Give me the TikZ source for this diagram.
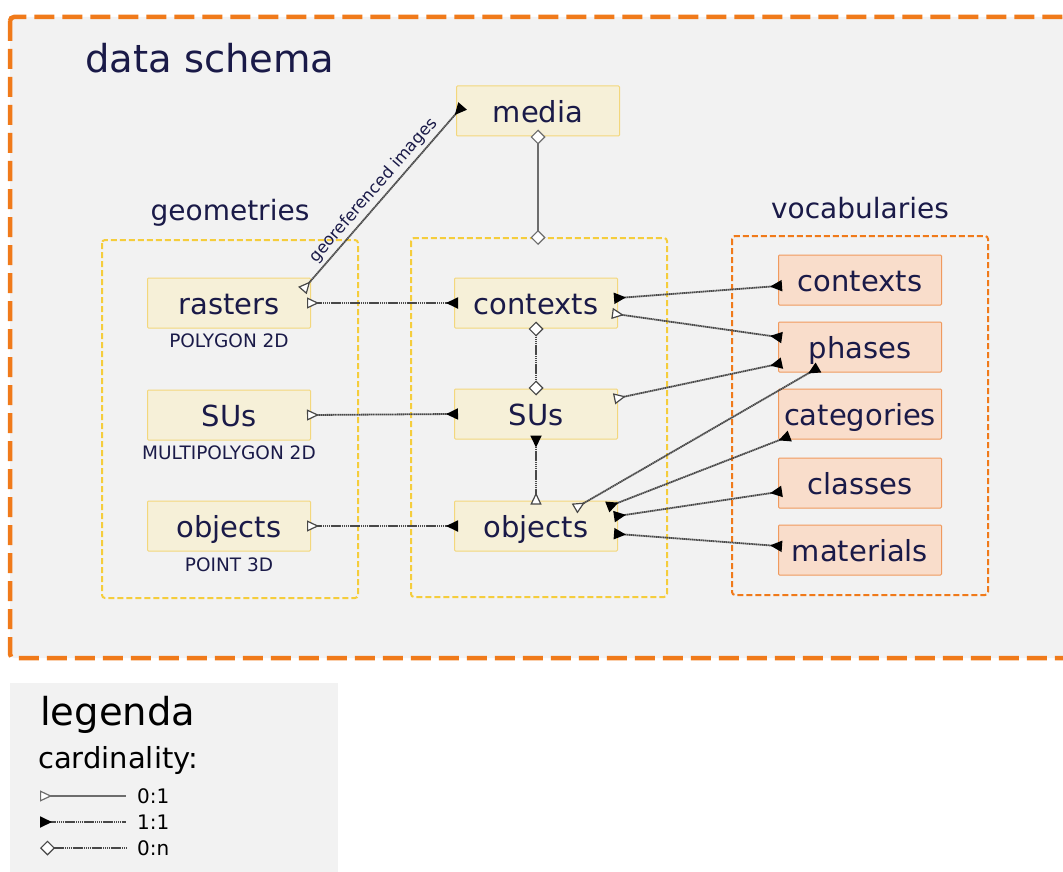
\documentclass[tikz,border=0pt]{standalone}
\usepackage{fontspec}
\setmainfont{DejaVu Sans}
\usetikzlibrary{arrows.meta,calc}

\definecolor{panel}{HTML}{F2F2F2}
\definecolor{schemaorange}{HTML}{F07A1A}
\definecolor{groupyellow}{HTML}{F5CD3C}
\definecolor{entfill}{HTML}{F6F0D8}
\definecolor{entline}{HTML}{F3D77C}
\definecolor{vocfill}{HTML}{F9DDCB}
\definecolor{vocline}{HTML}{F09A5E}
\definecolor{navy}{HTML}{1A1A48}
\definecolor{linkgray}{HTML}{484848}

\tikzset{
  ent/.style={draw=entline, fill=entfill, line width=1pt, rounded corners=1pt,
    minimum width=163pt, minimum height=50pt, inner sep=0pt,
    font=\fontsize{29}{31}\selectfont, text=navy, text height=25pt, text depth=2pt},
  voc/.style={ent, draw=vocline, fill=vocfill},
  geomtype/.style={font=\fontsize{18.5}{20}\selectfont, text=navy, inner sep=0pt},
  grouplabel/.style={font=\fontsize{28}{30}\selectfont, text=navy, inner sep=0pt, anchor=base},
  groupbox/.style={draw=groupyellow, line width=2pt, dash pattern=on 6pt off 3pt, rounded corners=3pt},
  link/.style={draw=linkgray, line width=1.8pt, dash pattern=on 1.4pt off 0.5pt,
    shorten <=-4pt, shorten >=-4pt},
  plainlink/.style={draw=linkgray!80, line width=1.8pt},
  diamondends/.style={shorten <=-7pt, shorten >=-7pt},
  zo/.tip={Triangle[reversed, fill=white, length=12pt, width=11pt, line width=1.2pt]},
  oo/.tip={Triangle[reversed, color=black, length=12pt, width=11pt]},
  zn/.tip={Diamond[fill=white, length=15pt, width=15pt, line width=1.2pt]},
}

\begin{document}
\begin{tikzpicture}[x=1pt, y=-1pt]
\useasboundingbox (0,0) rectangle (1063,872);
\clip (0,0) rectangle (1063,872);

% schema panel and legend panel
\draw[schemaorange, fill=panel, line width=4.5pt, dash pattern=on 20pt off 8pt,
      rounded corners=4pt] (10,17) rectangle (1090,658);
\fill[panel] (10,683) rectangle (338,880);

\node[anchor=base west, font=\fontsize{38.5}{40}\selectfont, text=navy, inner sep=0pt]
  (title) at (85,73) {data schema};

% groups
\draw[groupbox] (102,240) rectangle (358,598);
\draw[groupbox] (411,238) rectangle (667,597);
\draw[groupbox, draw=schemaorange] (732,236) rectangle (988,595);
\coordinate (coretop) at (538,238);

\node[grouplabel] (geomlabel) at (230,220) {geometries};
\node[grouplabel] (voclabel) at (860,218) {vocabularies};

% entities
\node[ent] (media) at (538,111) {media};

\node[ent] (rasters) at (229,303) {rasters};
\node[ent] (gsus) at (229,415) {SUs};
\node[ent] (gobjects) at (229,526) {objects};
\node[geomtype] (t1) at (229,341) {POLYGON 2D};
\node[geomtype] (t2) at (229,453) {MULTIPOLYGON 2D};
\node[geomtype] (t3) at (229,565) {POINT 3D};

\node[ent] (contexts) at (536,303) {contexts};
\node[ent] (sus) at (536,414) {SUs};
\node[ent] (objects) at (536,526) {objects};

\node[voc] (vcontexts) at (860,280) {contexts};
\node[voc] (vphases) at (860,347) {phases};
\node[voc] (vcategories) at (860,414) {categories};
\node[voc] (vclasses) at (860,483) {classes};
\node[voc] (vmaterials) at (860,550) {materials};

% relations
\draw[link, zo-oo] ($(rasters.north east)+(-6,10)$) -- ($(media.west)+(4,-2)$)
  node[midway, sloped, above, inner sep=3pt, text=navy,
       font=\fontsize{16.5}{18}\selectfont] (georef) {georeferenced images};
\draw[plainlink, diamondends, zn-zn] (media.south) -- (coretop);

\draw[link, zo-oo] (rasters.east) -- (contexts.west);
\draw[link, zo-oo] (gsus.east) -- (sus.west);
\draw[link, zo-oo] (gobjects.east) -- (objects.west);

\draw[link, diamondends, zn-zn] (contexts.south) -- (sus.north);
\draw[link, oo-zo] (sus.south) -- (objects.north);

\draw[link, oo-oo] ($(contexts.east)+(0,-5)$) -- ($(vcontexts.west)+(0,6)$);
\draw[link, zo-oo] ($(contexts.east)+(-2,11)$) -- ($(vphases.west)+(0,-10)$);
\draw[link, zo-oo] ($(sus.east)+(0,-16)$) -- ($(vphases.west)+(0,17)$);
\draw[link, zo-oo] ($(objects.north)+(42,6)$) -- ($(vphases.south west)+(37,-3)$);
\draw[link, oo-oo] ($(objects.north east)+(-7,5)$) -- ($(vcategories.south west)+(8,-2)$);
\draw[link, oo-oo] ($(objects.east)+(0,-10)$) -- ($(vclasses.west)+(0,9)$);
\draw[link, oo-oo] ($(objects.east)+(0,8)$) -- ($(vmaterials.west)+(0,-4)$);

% legend
\node[anchor=base west, font=\fontsize{38.5}{40}\selectfont, inner sep=0pt]
  (legtitle) at (40,725) {legenda};
\node[anchor=base west, font=\fontsize{29}{31}\selectfont, inner sep=0pt]
  (legcard) at (38,768) {cardinality:};

\coordinate (l1a) at (40,796);  \coordinate (l1b) at (126,796);
\coordinate (l2a) at (40,822);  \coordinate (l2b) at (126,822);
\coordinate (l3a) at (40,848);  \coordinate (l3b) at (126,848);
\draw[plainlink, zo-] (l1a) -- (l1b);
\draw[link, shorten <=0pt, shorten >=0pt, oo-] (l2a) -- (l2b);
\draw[link, shorten <=0pt, shorten >=0pt, zn-] (l3a) -- (l3b);
\node[anchor=base west, font=\fontsize{20}{22}\selectfont, inner sep=0pt] (c1) at (137,803) {0:1};
\node[anchor=base west, font=\fontsize{20}{22}\selectfont, inner sep=0pt] (c2) at (137,829) {1:1};
\node[anchor=base west, font=\fontsize{20}{22}\selectfont, inner sep=0pt] (c3) at (137,855) {0:n};
\end{tikzpicture}
\end{document}
